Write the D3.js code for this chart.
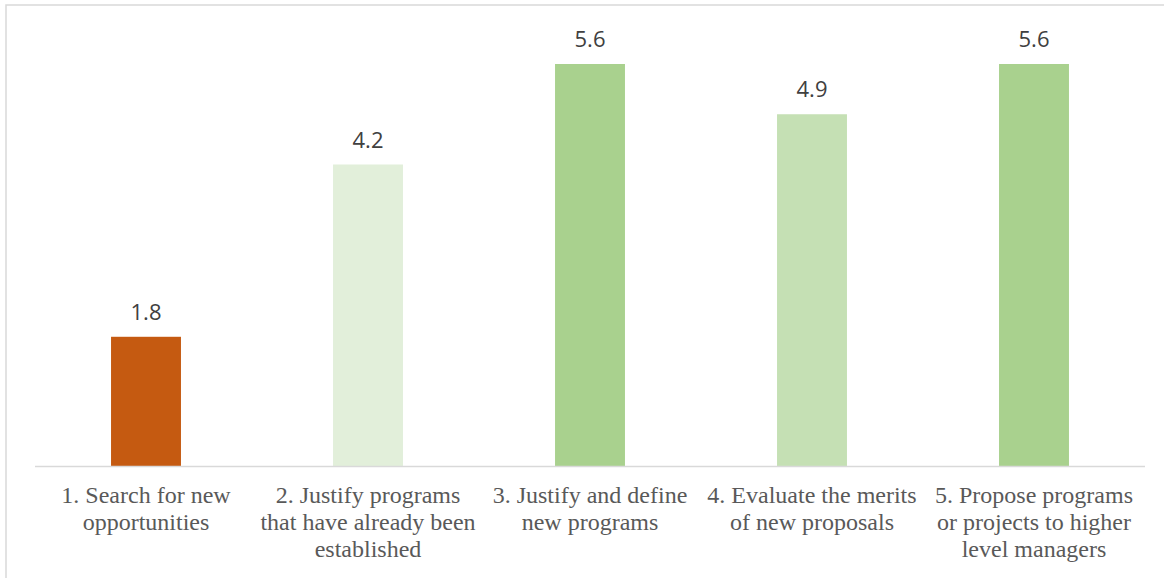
<!DOCTYPE html>
<html>
<head>
<meta charset="utf-8">
<script src="https://cdn.jsdelivr.net/npm/d3@7"></script>
<style>
  html, body { margin: 0; padding: 0; background: #fff; }
  svg { display: block; }
</style>
</head>
<body>
<svg id="chart" width="1164" height="578"></svg>
<script>
const categories = [
  ["1. Search for new", "opportunities"],
  ["2. Justify programs", "that have already been", "established"],
  ["3. Justify and define", "new programs"],
  ["4. Evaluate the merits", "of new proposals"],
  ["5. Propose programs", "or projects to higher", "level managers"]
];
const values = [1.8, 4.2, 5.6, 4.9, 5.6];
const barColors = ["#C55A11", "#E2EFDA", "#A9D18E", "#C5E0B4", "#A9D18E"];

const svg = d3.select("#chart");
const W = 1164, H = 578;

// chart area frame
svg.append("rect")
  .attr("x", 6).attr("y", 5)
  .attr("width", W + 10).attr("height", H + 10)
  .attr("fill", "none").attr("stroke", "#D9D9D9").attr("stroke-width", 1.5);

const plot = { left: 35, right: 1145, top: 64, bottom: 466 };

const x = d3.scaleBand()
  .domain(d3.range(categories.length))
  .range([plot.left, plot.right])
  .paddingInner(0.685)
  .paddingOuter(0.3425);

const y = d3.scaleLinear()
  .domain([0, 5.6])
  .range([plot.bottom, plot.top]);

svg.append("g").selectAll("rect")
  .data(values)
  .join("rect")
  .attr("x", (d, i) => x(i))
  .attr("y", d => y(d))
  .attr("width", x.bandwidth())
  .attr("height", d => y(0) - y(d))
  .attr("fill", (d, i) => barColors[i]);

// baseline
svg.append("line")
  .attr("x1", plot.left).attr("x2", plot.right)
  .attr("y1", y(0) + 0.5).attr("y2", y(0) + 0.5)
  .attr("stroke", "#D9D9D9").attr("stroke-width", 1.5);

// value labels
svg.append("g").selectAll("text")
  .data(values)
  .join("text")
  .attr("x", (d, i) => x(i) + x.bandwidth() / 2)
  .attr("y", d => y(d) - 17)
  .attr("text-anchor", "middle")
  .attr("font-family", "'Open Sans', 'Noto Sans', sans-serif")
  .attr("font-size", 22)
  .attr("fill", "#404040")
  .text(d => d.toFixed(1));

// category labels
const labels = svg.append("g").selectAll("text")
  .data(categories)
  .join("text")
  .attr("text-anchor", "middle")
  .attr("font-family", "'Liberation Serif', 'Times New Roman', serif")
  .attr("font-size", 24)
  .attr("fill", "#595959");

labels.selectAll("tspan")
  .data((d, i) => d.map(line => ({ line, i })))
  .join("tspan")
  .attr("x", d => x(d.i) + x.bandwidth() / 2)
  .attr("y", (d, j) => 503 + j * 27)
  .text(d => d.line);
</script>
</body>
</html>
